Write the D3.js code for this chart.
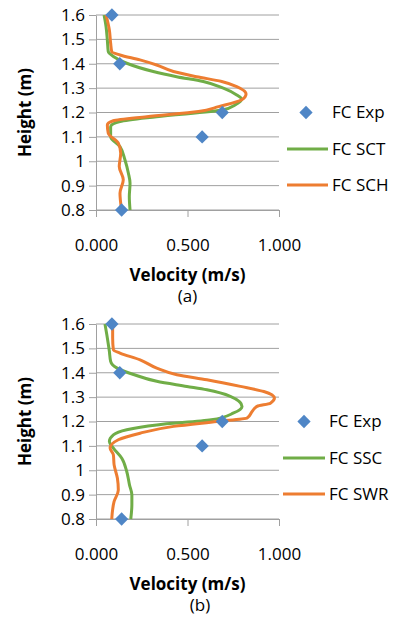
<!DOCTYPE html>
<html lang="en">
  <head>
    <meta charset="UTF-8" />
    <title>Velocity profiles</title>
    <script src="https://d3js.org/d3.v7.min.js"></script>
    <style>
      body { margin: 0; background: #fff; }
      text { font-family: "Open Sans", sans-serif; fill: #000; }
    </style>
  </head>
  <body>
    <div id="chart"></div>
    <script>
      // experimental points (same in both panels)
      const expHeight = [1.6, 1.4, 1.2, 1.1, 0.8];
      const expVel = [0.087, 0.13, 0.69, 0.58, 0.14];

      // panel (a)
      const sctHeight = [1.6, 1.552, 1.497, 1.45, 1.43, 1.402, 1.368, 1.347, 1.327, 1.3, 1.272, 1.254, 1.231, 1.211, 1.183, 1.163, 1.142, 1.101, 1.06, 1.006, 0.951, 0.91, 0.855, 0.8];
      const sctVel = [0.044, 0.055, 0.062, 0.067, 0.095, 0.168, 0.313, 0.441, 0.586, 0.696, 0.769, 0.796, 0.76, 0.696, 0.331, 0.131, 0.08, 0.08, 0.131, 0.158, 0.177, 0.186, 0.182, 0.186];
      const schHeight = [1.6, 1.539, 1.484, 1.45, 1.436, 1.416, 1.395, 1.368, 1.347, 1.327, 1.306, 1.276, 1.252, 1.224, 1.204, 1.183, 1.166, 1.149, 1.115, 1.074, 1.033, 0.978, 0.924, 0.869, 0.8];
      const schVel = [0.055, 0.073, 0.08, 0.086, 0.131, 0.24, 0.331, 0.423, 0.55, 0.687, 0.769, 0.82, 0.796, 0.67, 0.56, 0.277, 0.095, 0.062, 0.067, 0.122, 0.135, 0.127, 0.149, 0.131, 0.14];

      // panel (b)
      const sscHeight = [1.6, 1.543, 1.488, 1.447, 1.42, 1.393, 1.365, 1.344, 1.33, 1.303, 1.262, 1.235, 1.207, 1.186, 1.166, 1.145, 1.118, 1.091, 1.049, 0.995, 0.94, 0.899, 0.858, 0.8];
      const sscVel = [0.049, 0.062, 0.073, 0.08, 0.113, 0.205, 0.332, 0.497, 0.606, 0.734, 0.798, 0.752, 0.63, 0.332, 0.168, 0.095, 0.073, 0.095, 0.141, 0.168, 0.183, 0.196, 0.196, 0.19];
      const swrHeight = [1.6, 1.543, 1.494, 1.481, 1.453, 1.419, 1.392, 1.371, 1.344, 1.323, 1.296, 1.275, 1.262, 1.241, 1.214, 1.2, 1.18, 1.152, 1.125, 1.091, 1.063, 1.022, 0.967, 0.919, 0.872, 0.8];
      const swrVel = [0.091, 0.091, 0.095, 0.131, 0.241, 0.332, 0.442, 0.606, 0.789, 0.917, 0.975, 0.953, 0.88, 0.853, 0.826, 0.661, 0.424, 0.241, 0.122, 0.077, 0.095, 0.099, 0.117, 0.122, 0.099, 0.086];

      const heightTicks = [0.8, 0.9, 1, 1.1, 1.2, 1.3, 1.4, 1.5, 1.6];
      const velTicks = [0, 0.5, 1];

      const colors = { exp: "#4F86C6", green: "#70AD47", orange: "#ED7D31" };
      const gridColor = "#a0a0a0";

      const svg = d3
        .select("#chart")
        .append("svg")
        .attr("width", 393)
        .attr("height", 618);

      const panels = [
        {
          top: 15, bottom: 210, label: "(a)", labelX: 187.5,
          names: ["FC Exp", "FC SCT", "FC SCH"],
          lines: [
            { h: sctHeight, v: sctVel, color: colors.green },
            { h: schHeight, v: schVel, color: colors.orange },
          ],
          legendX: 306, textX: 332, lineX: [287, 328],
        },
        {
          top: 324, bottom: 519, label: "(b)", labelX: 200,
          names: ["FC Exp", "FC SSC", "FC SWR"],
          lines: [
            { h: sscHeight, v: sscVel, color: colors.green },
            { h: swrHeight, v: swrVel, color: colors.orange },
          ],
          legendX: 304, textX: 329, lineX: [283, 325],
        },
      ];

      const diamond = d3.symbol().type(d3.symbolSquare).size(88);

      panels.forEach((p) => {
        const x = d3.scaleLinear().domain([0, 1]).range([96, 279]);
        const y = d3.scaleLinear().domain([0.8, 1.6]).range([p.bottom, p.top]);
        const g = svg.append("g");

        // horizontal gridlines
        g.selectAll("line.grid")
          .data(heightTicks)
          .enter()
          .append("line")
          .attr("class", "grid")
          .attr("x1", x(0))
          .attr("x2", x(1))
          .attr("y1", (d) => y(d))
          .attr("y2", (d) => y(d))
          .attr("stroke", gridColor)
          .attr("stroke-width", 1);

        const yAxis = g
          .append("g")
          .attr("transform", `translate(${x(0)},0)`)
          .call(
            d3.axisLeft(y)
              .tickValues(heightTicks)
              .tickSize(7)
              .tickSizeOuter(0)
              .tickPadding(4)
              .tickFormat((d) => String(+d.toFixed(1)))
          );

        const xAxis = g
          .append("g")
          .attr("transform", `translate(0,${p.bottom})`)
          .call(
            d3.axisBottom(x)
              .tickValues(velTicks)
              .tickSize(7)
              .tickSizeOuter(0)
              .tickPadding(22)
              .tickFormat(d3.format(".3f"))
          );

        [yAxis, xAxis].forEach((a) => {
          a.selectAll("path, line").attr("stroke", gridColor);
          a.selectAll("text")
            .style("font-size", "17px")
            .style("font-family", "'Open Sans', sans-serif")
            .attr("fill", "#000");
        });

        const line = d3
          .line()
          .x((d) => x(d[1]))
          .y((d) => y(d[0]))
          .curve(d3.curveMonotoneY);

        p.lines.forEach((s) => {
          g.append("path")
            .datum(d3.zip(s.h, s.v))
            .attr("fill", "none")
            .attr("stroke", s.color)
            .attr("stroke-width", 3)
            .attr("stroke-linejoin", "round")
            .attr("d", line);
        });

        g.selectAll("path.exp")
          .data(d3.zip(expHeight, expVel))
          .enter()
          .append("path")
          .attr("class", "exp")
          .attr("d", diamond)
          .attr("fill", colors.exp)
          .attr("transform", (d) => `translate(${x(d[1])},${y(d[0])}) rotate(45)`);

        // titles
        g.append("text")
          .attr("x", 187.5)
          .attr("y", p.bottom + 65)
          .attr("dy", "0.35em")
          .attr("text-anchor", "middle")
          .style("font-size", "17px")
          .style("font-weight", "bold")
          .text("Velocity (m/s)");

        g.append("text")
          .attr("transform", `translate(25,${y(1.2)}) rotate(-90)`)
          .attr("dy", "0.35em")
          .attr("text-anchor", "middle")
          .style("font-size", "17px")
          .style("font-weight", "bold")
          .text("Height (m)");

        g.append("text")
          .attr("x", p.labelX)
          .attr("y", p.bottom + 86)
          .attr("dy", "0.35em")
          .attr("text-anchor", "middle")
          .style("font-size", "17px")
          .text(p.label);

        // legend
        const ly = [y(1.2), y(1.2) + 36.5, y(1.2) + 72.5];
        g.append("path")
          .attr("d", diamond)
          .attr("fill", colors.exp)
          .attr("transform", `translate(${p.legendX},${ly[0]}) rotate(45)`);
        p.lines.forEach((s, i) => {
          g.append("line")
            .attr("x1", p.lineX[0])
            .attr("x2", p.lineX[1])
            .attr("y1", ly[i + 1])
            .attr("y2", ly[i + 1])
            .attr("stroke", s.color)
            .attr("stroke-width", 3);
        });
        p.names.forEach((n, i) => {
          g.append("text")
            .attr("x", p.textX)
            .attr("y", ly[i])
            .attr("dy", "0.35em")
            .style("font-size", "17px")
            .text(n);
        });
      });
    </script>
  </body>
</html>
